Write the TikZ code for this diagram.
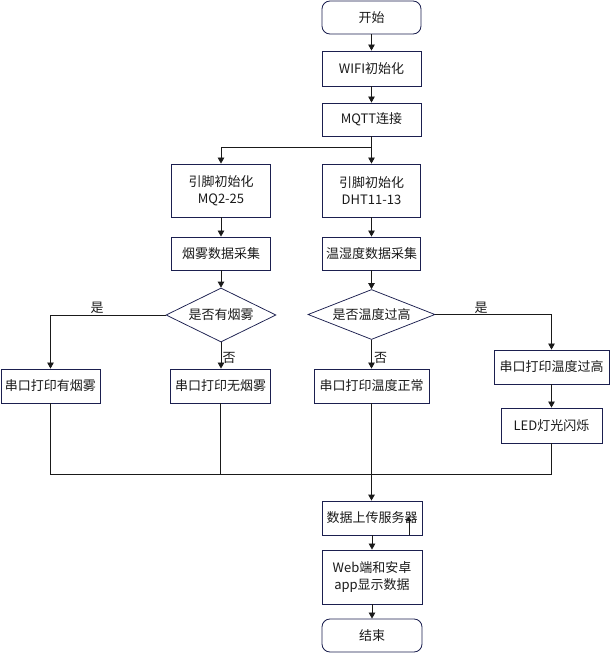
\documentclass[tikz,border=0pt]{standalone}
\usepackage{fontspec}
\setmainfont{Noto Sans CJK SC}
\usetikzlibrary{shapes.geometric,arrows.meta}
\definecolor{boxc}{HTML}{1B1F4F}
\definecolor{linec}{HTML}{1A1A1A}
\definecolor{txtc}{HTML}{1A1A1A}
\begin{document}
\begin{tikzpicture}[x=1pt,y=-1pt,
  every node/.style={font=\fontsize{13}{15}\selectfont, text=txtc},
  box/.style={draw=boxc, line width=0.85pt, inner sep=0pt, align=center, fill=white},
  rbox/.style={box, rounded corners=8pt},
  dia/.style={draw=boxc, line width=0.75pt, diamond, aspect=2.5, inner sep=0pt, fill=white},
  conn/.style={draw=linec, line width=0.8pt},
  arr/.style={conn, -{Triangle[length=6pt,width=6.5pt]}},
  lab/.style={inner sep=0pt}
]
\useasboundingbox (0,0) rectangle (611,654);

\node[rbox, minimum width=99pt, minimum height=33pt] (start) at (371.5,17.5) {开始};
\node[box, minimum width=99pt, minimum height=35pt] (wifi) at (371.5,68.5) {WIFI初始化};
\node[box, minimum width=99pt, minimum height=33pt] (mqtt) at (371.5,119.5) {MQTT连接};
\node[box, minimum width=99pt, minimum height=53pt] (pinA) at (221,190.5) {引脚初始化\\[2pt]MQ2-25};
\node[box, minimum width=98pt, minimum height=53pt] (pinB) at (371.5,190.5) {引脚初始化\\[2pt]DHT11-13};
\node[box, minimum width=99pt, minimum height=33pt] (colA) at (221,253.5) {烟雾数据采集};
\node[box, minimum width=98pt, minimum height=33pt] (colB) at (371.5,253.5) {温湿度数据采集};
\node[dia, minimum width=110pt, minimum height=54pt] (dA) at (221,315) {是否有烟雾};
\node[dia, minimum width=127pt, minimum height=50pt] (dB) at (371.5,314.5) {是否温度过高};
\node[box, minimum width=99pt, minimum height=34pt] (pA) at (50.5,386) {串口打印有烟雾};
\node[box, minimum width=100pt, minimum height=34pt] (pB) at (220.5,386) {串口打印无烟雾};
\node[box, minimum width=115pt, minimum height=34pt] (pC) at (371.5,386) {串口打印温度正常};
\node[box, minimum width=115pt, minimum height=34pt] (pD) at (551.5,367) {串口打印温度过高};
\node[box, minimum width=101pt, minimum height=35pt] (led) at (551.5,425.5) {LED灯光闪烁};
\node[box, minimum width=100pt, minimum height=34pt] (up) at (372,518) {数据上传服务器};
\node[box, minimum width=100pt, minimum height=54pt] (web) at (372,577) {Web端和安卓\\[2pt]app显示数据};
\node[rbox, minimum width=100pt, minimum height=33pt] (end) at (372,635.5) {结束};

\coordinate (split) at (371.5,147);
\coordinate (mL) at (50.5,474);
\coordinate (mR) at (551.5,474);
\coordinate (mB) at (220.5,474);
\coordinate (stray) at (409,517);

\draw[arr] (start) -- (wifi);
\draw[arr] (wifi) -- (mqtt);
\draw[conn] (mqtt.south) -- (split);
\draw[arr] (split) -- (pinB.north);
\draw[arr] (split) -| (pinA.north);
\draw[arr] (pinA) -- (colA);
\draw[arr] (pinB) -- (colB);
\draw[arr] (colA) -- (dA);
\draw[arr] (colB) -- (dB);
\draw[arr] (dA.west) -| (pA.north);
\draw[arr] (dA.south) -- (pA.north -| dA.south);
\draw[arr] (dB.east) -| (pD.north);
\draw[arr] (dB.south) -- (pC.north);
\draw[arr] (pD) -- (led);
\draw[conn] (pA.south) -- (mL) -- (mR) -- (led.south);
\draw[conn] (pB.south) -- (mB);
\draw[arr, line width=1.2pt] (pC.south) -- (up.north -| pC.south);
\draw[arr] (up) -- (web);
\draw[arr] (web) -- (end);
\draw[conn, -{Triangle[length=4pt,width=5pt]}] (up.south -| stray) -- (stray);

\node[lab] (yA) at (97,308) {是};
\node[lab] (nA) at (229,358) {否};
\node[lab] (yB) at (481,308) {是};
\node[lab] (nB) at (380.5,358) {否};
\end{tikzpicture}
\end{document}
